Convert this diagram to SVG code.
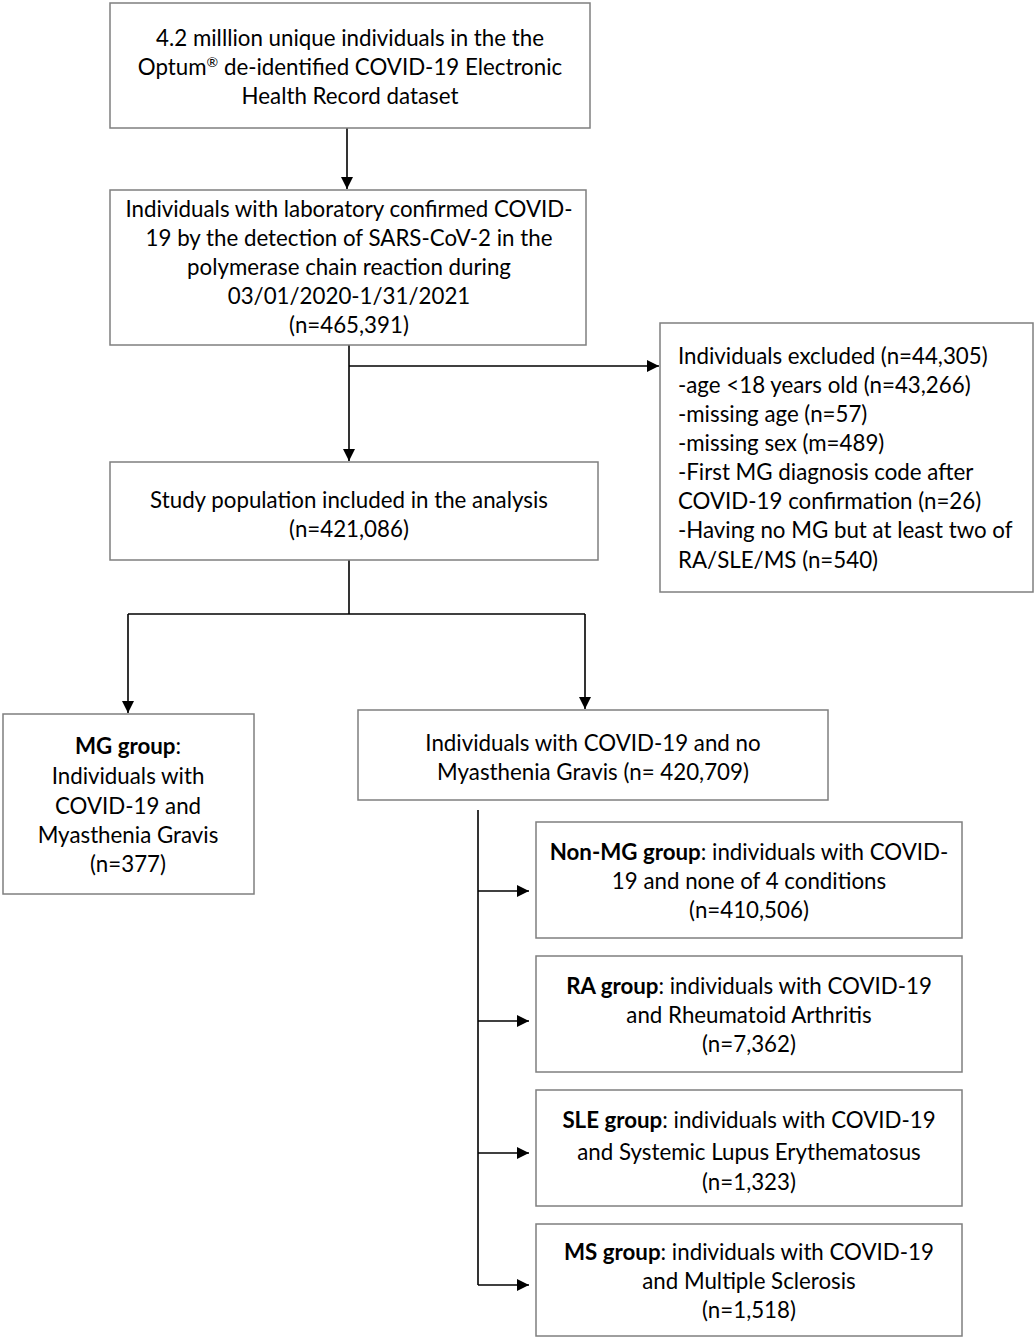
<svg xmlns="http://www.w3.org/2000/svg" width="1036" height="1339" viewBox="0 0 1036 1339">
<style>
.box{fill:#fff;stroke:#7f7f7f;stroke-width:1.5}
.t{font-family:Lato,"Liberation Sans",sans-serif;font-size:22.3px;fill:#000}
.c{text-anchor:middle}
.b{font-weight:bold}
.ln{fill:none;stroke:#000;stroke-width:1.6}
</style>
<defs>
<marker id="ah" viewBox="0 0 12 12" refX="12" refY="6" markerWidth="12" markerHeight="12" markerUnits="userSpaceOnUse" orient="auto">
<path d="M0,0 L12,6 L0,12 z" fill="#000"/>
</marker>
</defs>
<rect width="1036" height="1339" fill="#fff"/>
<g id="connectors">
<line class="ln" x1="347" y1="128" x2="347" y2="189" marker-end="url(#ah)"/>
<line class="ln" x1="349" y1="345" x2="349" y2="461" marker-end="url(#ah)"/>
<line class="ln" x1="349" y1="366" x2="659" y2="366" marker-end="url(#ah)"/>
<line class="ln" x1="349" y1="560" x2="349" y2="614"/>
<polyline class="ln" points="128,614 585,614"/>
<line class="ln" x1="128" y1="614" x2="128" y2="713" marker-end="url(#ah)"/>
<line class="ln" x1="585" y1="614" x2="585" y2="709" marker-end="url(#ah)"/>
<line class="ln" x1="478" y1="810" x2="478" y2="1285"/>
<line class="ln" x1="478" y1="891" x2="529" y2="891" marker-end="url(#ah)"/>
<line class="ln" x1="478" y1="1021" x2="529" y2="1021" marker-end="url(#ah)"/>
<line class="ln" x1="478" y1="1153" x2="529" y2="1153" marker-end="url(#ah)"/>
<line class="ln" x1="478" y1="1285" x2="529" y2="1285" marker-end="url(#ah)"/>
</g>
<g id="n1">
<rect class="box" x="110" y="3" width="480" height="125"/>
<text class="t c" x="350" y="46">4.2 milllion unique individuals in the the</text>
<text class="t c" x="350" y="75">Optum<tspan font-size="14" baseline-shift="super">®</tspan> de-identified COVID-19 Electronic</text>
<text class="t c" x="350" y="104">Health Record dataset</text>
</g>
<g id="n2">
<rect class="box" x="110" y="190" width="476" height="155"/>
<text class="t c" x="349" y="217">Individuals with laboratory confirmed COVID-</text>
<text class="t c" x="349" y="246">19 by the detection of SARS-CoV-2 in the</text>
<text class="t c" x="349" y="275">polymerase chain reaction during</text>
<text class="t c" x="349" y="304">03/01/2020-1/31/2021</text>
<text class="t c" x="349" y="333">(n=465,391)</text>
</g>
<g id="excluded">
<rect class="box" x="660" y="323" width="373" height="269"/>
<text class="t" x="678" y="364">Individuals excluded (n=44,305)</text>
<text class="t" x="678" y="393">-age &lt;18 years old (n=43,266)</text>
<text class="t" x="678" y="422">-missing age (n=57)</text>
<text class="t" x="678" y="451">-missing sex (m=489)</text>
<text class="t" x="678" y="480">-First MG diagnosis code after</text>
<text class="t" x="678" y="509">COVID-19 confirmation (n=26)</text>
<text class="t" x="678" y="538">-Having no MG but at least two of</text>
<text class="t" x="678" y="568">RA/SLE/MS (n=540)</text>
</g>
<g id="n3">
<rect class="box" x="110" y="462" width="488" height="98"/>
<text class="t c" x="349" y="508">Study population included in the analysis</text>
<text class="t c" x="349" y="537">(n=421,086)</text>
</g>
<g id="mg">
<rect class="box" x="3" y="714" width="251" height="180"/>
<text class="t c" x="128" y="754"><tspan class="b">MG group</tspan>:</text>
<text class="t c" x="128" y="784">Individuals with</text>
<text class="t c" x="128" y="814">COVID-19 and</text>
<text class="t c" x="128" y="843">Myasthenia Gravis</text>
<text class="t c" x="128" y="872">(n=377)</text>
</g>
<g id="nomg">
<rect class="box" x="358" y="710" width="470" height="90"/>
<text class="t c" x="593" y="751">Individuals with COVID-19 and no</text>
<text class="t c" x="593" y="780">Myasthenia Gravis (n= 420,709)</text>
</g>
<g id="nonmg">
<rect class="box" x="536" y="822" width="426" height="116"/>
<text class="t c" x="749" y="860"><tspan class="b">Non-MG group</tspan>: individuals with COVID-</text>
<text class="t c" x="749" y="889">19 and none of 4 conditions</text>
<text class="t c" x="749" y="918">(n=410,506)</text>
</g>
<g id="ra">
<rect class="box" x="536" y="956" width="426" height="116"/>
<text class="t c" x="749" y="994"><tspan class="b">RA group</tspan>: individuals with COVID-19</text>
<text class="t c" x="749" y="1023">and Rheumatoid Arthritis</text>
<text class="t c" x="749" y="1052">(n=7,362)</text>
</g>
<g id="sle">
<rect class="box" x="536" y="1090" width="426" height="116"/>
<text class="t c" x="749" y="1128"><tspan class="b">SLE group</tspan>: individuals with COVID-19</text>
<text class="t c" x="749" y="1160">and Systemic Lupus Erythematosus</text>
<text class="t c" x="749" y="1190">(n=1,323)</text>
</g>
<g id="ms">
<rect class="box" x="536" y="1224" width="426" height="112"/>
<text class="t c" x="749" y="1260"><tspan class="b">MS group</tspan>: individuals with COVID-19</text>
<text class="t c" x="749" y="1289">and Multiple Sclerosis</text>
<text class="t c" x="749" y="1318">(n=1,518)</text>
</g>
</svg>
